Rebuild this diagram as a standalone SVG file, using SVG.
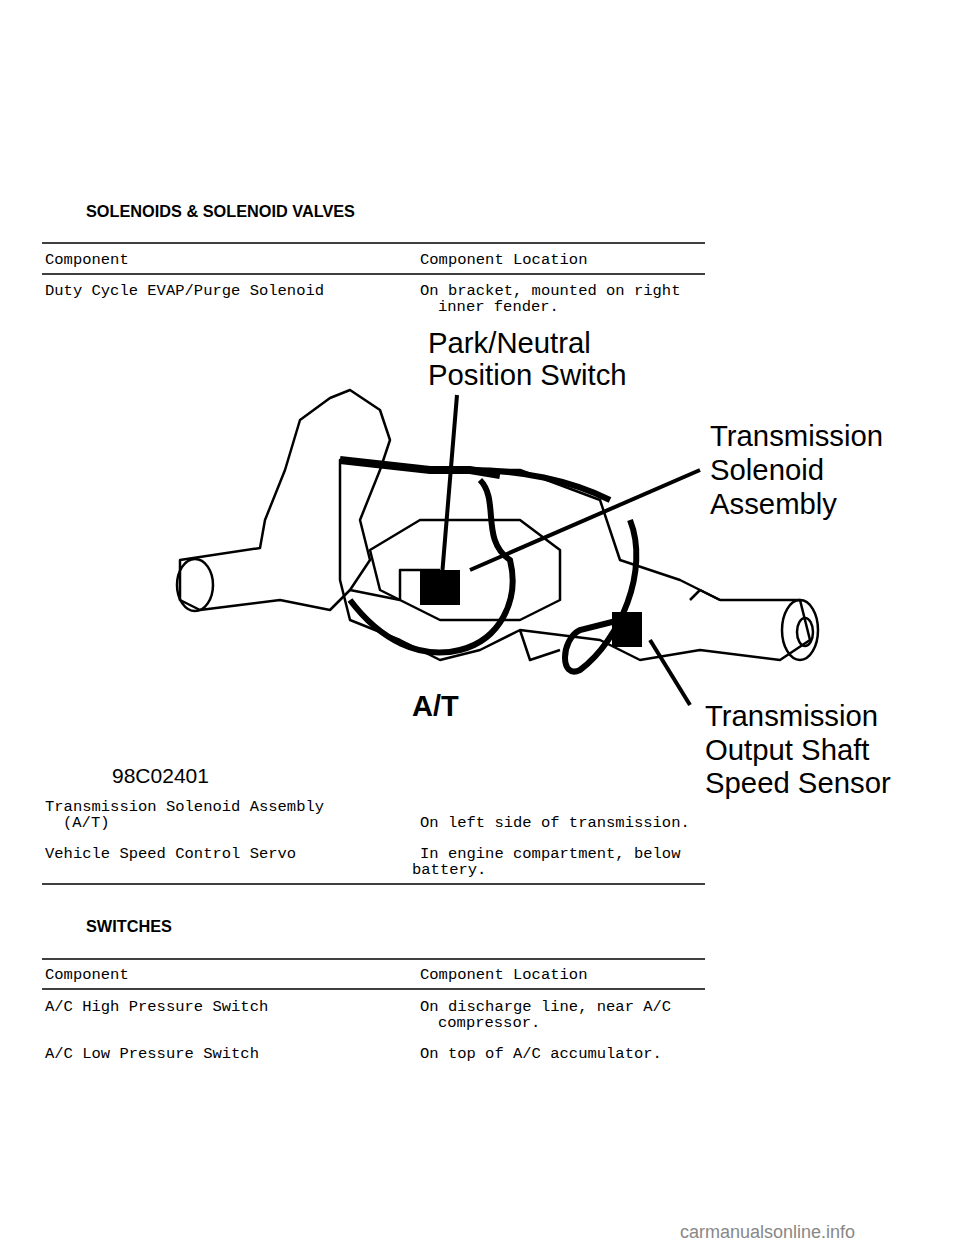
<svg xmlns="http://www.w3.org/2000/svg" width="960" height="1242" viewBox="0 0 960 1242">
<style>
.m{font-family:"Liberation Mono",monospace;font-size:15.5px;fill:#000}
.h{font-family:"Liberation Sans",Arial,sans-serif;font-size:16.3px;font-weight:bold;fill:#000}
.l{font-family:"Liberation Sans",Arial,sans-serif;font-size:29.3px;fill:#000}
.r{stroke:#000;stroke-width:1.3}
.d{fill:none;stroke:#000;stroke-width:2.5;stroke-linejoin:round}
</style>
<rect width="960" height="1242" fill="#fff"/>
<text class="h" x="86" y="217">SOLENOIDS &amp; SOLENOID VALVES</text>
<line class="r" x1="42" y1="243" x2="705" y2="243"/>
<text class="m" x="45" y="264">Component</text><text class="m" x="420" y="264">Component Location</text>
<line class="r" x1="42" y1="274" x2="705" y2="274"/>
<text class="m" x="45" y="295">Duty Cycle EVAP/Purge Solenoid</text>
<text class="m" x="420" y="295">On bracket, mounted on right</text>
<text class="m" x="438" y="311">inner fender.</text>
<g id="illustration">
<path class="d" d="M180 560 L260 548 L265 520 L285 470 L300 420 L330 398 L350 390 L380 410 L390 440 L380 470 L360 520 L370 560 L350 590 L330 610 L280 600 L240 605 L200 610 L180 600 Z"/>
<ellipse class="d" cx="195" cy="585" rx="18" ry="26"/>
<path class="d" d="M340 460 L420 470 L520 470 L600 500 L620 560 L680 580 L720 600 L800 600 L810 640 L780 660 L700 650 L640 660 L600 640 L520 630 L480 650 L440 660 L400 640 L350 620 L340 580 Z"/>
<ellipse class="d" cx="800" cy="630" rx="18" ry="30"/>
<ellipse class="d" cx="805" cy="632" rx="8" ry="14"/>
<path class="d" d="M420 520 L520 520 L560 550 L560 600 L520 620 L440 620 L380 590 L370 550 Z"/>
<path d="M340 460 L430 470 L470 470 L500 475" fill="none" stroke="#000" stroke-width="8"/>
<path d="M480 480 C500 500 480 540 510 560 C520 600 500 640 460 650 C420 660 380 640 350 600" fill="none" stroke="#000" stroke-width="6"/>
<path d="M630 520 C650 570 620 640 580 670 C560 680 560 640 580 630 L620 620" fill="none" stroke="#000" stroke-width="6"/>
<path d="M470 470 C520 470 570 480 610 500" fill="none" stroke="#000" stroke-width="6"/>
<rect x="420" y="570" width="40" height="35" fill="#000"/>
<rect x="612" y="612" width="30" height="35" fill="#000"/>
<path class="d" d="M350 590 L400 600 L400 570 L440 570 M690 600 L700 590 L720 600 M520 630 L530 660 L560 650"/>
<line x1="457" y1="395" x2="440" y2="600" stroke="#000" stroke-width="4"/>
<line x1="700" y1="470" x2="470" y2="570" stroke="#000" stroke-width="4"/>
<line x1="690" y1="705" x2="650" y2="640" stroke="#000" stroke-width="4"/>
</g>
<text class="l" x="428" y="353">Park/Neutral</text>
<text class="l" x="428" y="385">Position Switch</text>
<text class="l" x="710" y="446">Transmission</text>
<text class="l" x="710" y="480">Solenoid</text>
<text class="l" x="710" y="514">Assembly</text>
<text class="l" x="705" y="726">Transmission</text>
<text class="l" x="705" y="760">Output Shaft</text>
<text class="l" x="705" y="793">Speed Sensor</text>
<text x="412" y="716" style="font-family:'Liberation Sans',Arial,sans-serif;font-size:29px;font-weight:bold">A/T</text>
<text x="112" y="783" style="font-family:'Liberation Sans',Arial,sans-serif;font-size:21px">98C02401</text>
<text class="m" x="45" y="811">Transmission Solenoid Assembly</text>
<text class="m" x="63" y="827">(A/T)</text>
<text class="m" x="420" y="827">On left side of transmission.</text>
<text class="m" x="45" y="858">Vehicle Speed Control Servo</text>
<text class="m" x="420" y="858">In engine compartment, below</text>
<text class="m" x="412" y="874">battery.</text>
<line class="r" x1="42" y1="884" x2="705" y2="884"/>
<text class="h" x="86" y="932">SWITCHES</text>
<line class="r" x1="42" y1="959" x2="705" y2="959"/>
<text class="m" x="45" y="979">Component</text><text class="m" x="420" y="979">Component Location</text>
<line class="r" x1="42" y1="989" x2="705" y2="989"/>
<text class="m" x="45" y="1011">A/C High Pressure Switch</text>
<text class="m" x="420" y="1011">On discharge line, near A/C</text>
<text class="m" x="438" y="1027">compressor.</text>
<text class="m" x="45" y="1058">A/C Low Pressure Switch</text>
<text class="m" x="420" y="1058">On top of A/C accumulator.</text>
<text x="680" y="1238" style="font-family:'Liberation Sans',Arial,sans-serif;font-size:18px;fill:#888">carmanualsonline.info</text>
</svg>
